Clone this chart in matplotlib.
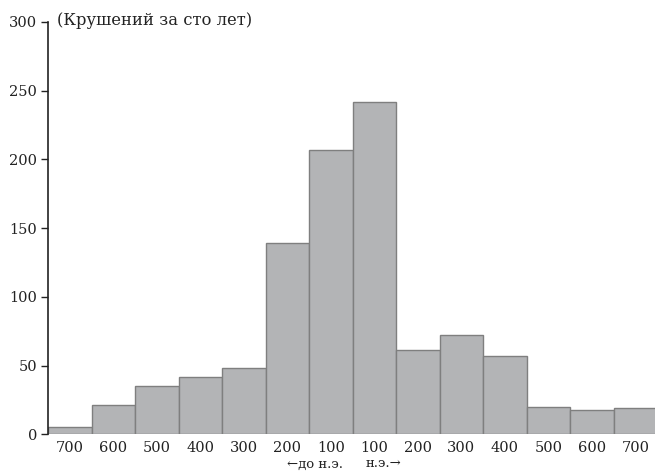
import matplotlib
matplotlib.use('Agg')
import matplotlib.pyplot as plt
import numpy as np

# crashes per century, 700 BC .. 700 AD
centuries = ['700', '600', '500', '400', '300', '200', '100',
             '100', '200', '300', '400', '500', '600', '700']
crashes = [5, 21, 35, 42, 48, 139, 207, 242, 61, 72, 57, 20, 18, 19]

plt.rcParams['font.family'] = ['DejaVu Serif']

fig = plt.figure(figsize=(6.55, 4.72), dpi=100)
ax = fig.add_axes([0.0733, 0.0799, 0.9298, 0.8735])

x = np.arange(len(crashes))
ax.bar(x, crashes, width=1.0, align='edge', color='#b3b4b6',
       edgecolor='#7f7f7f', linewidth=1.0)

ax.set_xlim(0, len(crashes))
ax.set_ylim(0, 300)
ax.set_yticks([0, 50, 100, 150, 200, 250, 300])
ax.set_xticks(x + 0.5)
ax.set_xticklabels(centuries)
ax.tick_params(axis='x', length=0, pad=5, labelsize=10.5, colors='#222222')
ax.tick_params(axis='y', length=5, width=1, pad=3, labelsize=10.5,
               colors='#222222')

for s in ['top', 'right', 'bottom']:
    ax.spines[s].set_visible(False)
ax.spines['left'].set_color('#222222')
ax.spines['left'].set_linewidth(1.2)

ax.text(0.2, 301, u'(Крушений за сто лет)', fontsize=11.8, color='#222222',
        ha='left', va='center', transform=ax.transData)

ax.text(6.78, -0.072, u'\u2190до н.э.', transform=ax.get_xaxis_transform(),
        ha='right', va='center', fontsize=9.5, color='#222222')
ax.text(7.3, -0.072, u'н.э.\u2192', transform=ax.get_xaxis_transform(),
        ha='left', va='center', fontsize=9.5, color='#222222')

fig.savefig('out.png', dpi=100)
